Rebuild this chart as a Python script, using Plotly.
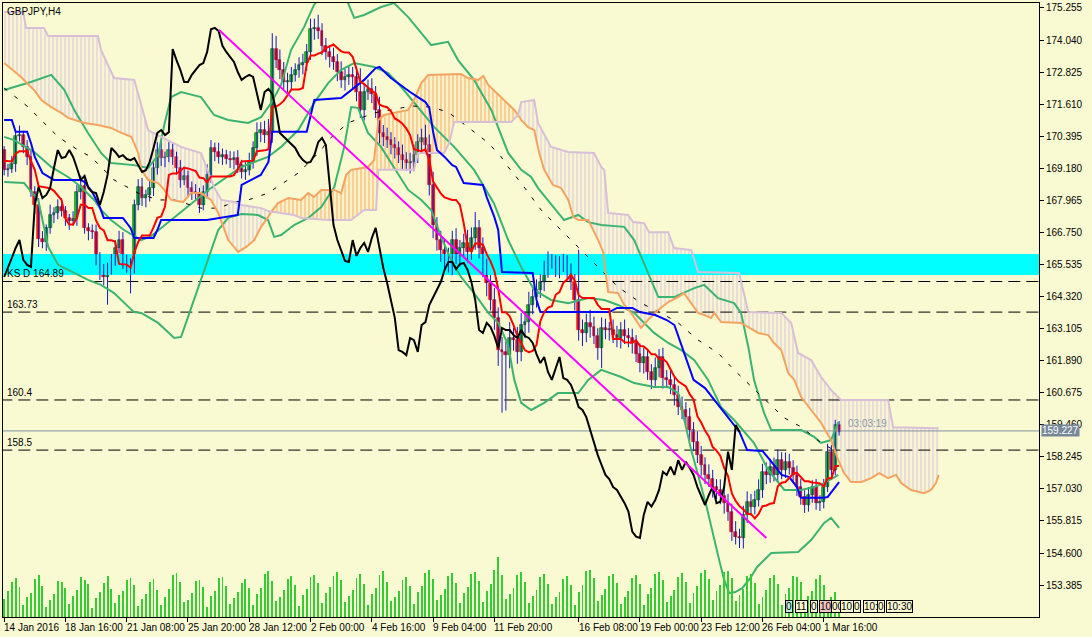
import plotly.graph_objects as go

# GBPJPY H4, bar 0 = 14 Jan 2016 00:00 (prices)
closes = [
    169.11, 169.15, 169.35, 170.40, 170.45, 170.00, 169.60, 168.30, 167.80, 166.50,
    166.40, 166.90, 167.40, 167.50, 167.70, 167.55, 167.30, 167.20, 167.25, 168.30,
    168.50, 166.90, 166.80, 166.75, 165.80, 165.30, 165.06, 165.40, 165.78, 166.16,
    166.46, 165.71, 165.52, 165.44, 167.79, 168.47, 168.05, 168.17, 168.43, 169.19,
    169.87, 169.57, 169.61, 169.87, 169.61, 169.19, 168.74, 168.89, 168.43, 168.28,
    168.24, 167.79, 168.28, 168.93, 169.95, 169.80, 169.61, 169.68, 169.53, 169.49,
    169.57, 169.30, 169.04, 169.11, 169.42, 169.95, 170.52, 170.63, 170.44, 170.55,
    173.70, 173.28, 172.91, 172.45, 172.45, 172.72, 172.91, 173.09, 173.17, 173.59,
    174.45, 174.50, 174.38, 173.82, 173.59, 173.40, 173.21, 172.83, 172.53, 172.64,
    172.72, 172.64, 172.07, 171.39, 172.07, 172.19, 172.00, 171.39, 170.52, 170.37,
    170.25, 170.06, 169.95, 169.68, 169.49, 169.38, 169.42, 169.68, 170.17, 170.33,
    170.06, 168.55, 167.03, 166.46, 166.08, 165.67, 165.63, 166.46, 165.86, 166.16,
    166.35, 166.01, 166.54, 166.92, 166.16, 165.40, 164.83, 164.19, 163.51, 162.29,
    162.22, 162.10, 162.75, 162.67, 162.22, 163.24, 163.35, 164.00, 164.30, 164.57,
    164.87, 165.33, 165.63, 165.63, 165.36, 165.55, 165.59, 165.33, 164.87, 164.19,
    163.05, 162.94, 163.32, 163.16, 162.82, 162.37, 163.13, 163.05, 163.05, 162.86,
    162.75, 163.05, 162.82, 162.75, 162.56, 162.14, 161.80, 162.03, 161.46, 161.16,
    161.61, 162.03, 161.23, 161.16, 160.97, 160.59, 160.13, 160.02, 159.75, 159.26,
    158.81, 158.31, 157.93, 157.56, 157.40, 157.10, 156.99, 156.75, 156.49, 156.17,
    155.41, 155.22, 155.17, 156.04, 156.54, 156.36, 156.61, 156.99, 157.68, 157.56,
    157.87, 157.56, 158.12, 157.75, 158.06, 157.82, 157.56, 157.11, 156.73, 156.42,
    156.80, 157.11, 156.49, 156.54, 157.11, 158.44, 157.75, 159.45, 159.20,
]
first_open = 169.87

upper_wick = [
    0.15, 0.2, 0.3, 0.2, 0.35, 0.15, 0.25, 0.3, 0.2, 0.25,
    0.3, 0.15, 0.4, 0.2, 0.3, 0.35, 0.2, 0.15, 0.3, 0.25,
    0.4, 0.3, 0.2, 0.25, 0.3, 0.2, 0.25, 0.2, 0.15, 0.3,
    0.35, 0.3, 0.2, 0.25, 0.2, 0.3, 0.35, 0.2, 0.3, 0.25,
    0.3, 0.4, 0.2, 0.3, 0.25, 0.2, 0.3, 0.35, 0.2, 0.25,
    0.3, 0.2, 0.25, 0.4, 0.3, 0.2, 0.35, 0.25, 0.2, 0.3,
    0.25, 0.3, 0.2, 0.3, 0.35, 0.25, 0.4, 0.3, 0.35, 0.5,
    0.6, 0.5, 0.4, 0.3, 0.35, 0.3, 0.25, 0.3, 0.35, 0.3,
    0.4, 0.35, 0.5, 0.3, 0.3, 0.25, 0.35, 0.3, 0.4, 0.3,
    0.35, 0.3, 0.4, 0.9, 0.3, 0.35, 0.4, 0.3, 0.5, 0.3,
    0.35, 0.3, 0.3, 0.25, 0.4, 0.3, 0.35, 0.4, 0.3, 0.35,
    0.5, 0.4, 0.5, 0.3, 0.35, 0.4, 0.5, 0.35, 0.45, 0.3,
    0.35, 0.5, 0.4, 0.6, 0.3, 0.4, 0.35, 0.3, 0.45, 0.4,
    0.5, 0.4, 0.6, 0.4, 0.5, 0.45, 0.4, 0.5, 0.3, 0.4,
    0.3, 0.35, 0.4, 0.3, 0.25, 0.3, 0.35, 0.3, 0.25, 0.3,
    1.9, 0.4, 0.35, 0.5, 0.4, 0.3, 0.4, 0.35, 0.3, 0.4,
    0.35, 0.3, 0.4, 0.3, 0.35, 0.3, 0.4, 0.35, 0.3, 0.3,
    0.4, 0.3, 0.35, 0.3, 0.4, 0.3, 0.35, 0.4, 0.3, 0.35,
    0.3, 0.4, 0.35, 0.3, 0.4, 0.35, 0.3, 0.4, 0.3, 0.35,
    0.3, 0.4, 0.3, 0.35, 0.4, 0.3, 0.35, 0.4, 0.3, 0.35,
    0.3, 0.35, 0.4, 0.3, 0.35, 0.3, 0.3, 0.35, 0.3, 0.25,
    0.3, 0.25, 0.3, 0.25, 0.3, 0.3, 0.25, 0.2, 0.15,
]
lower_wick = [
    0.2, 0.25, 0.15, 0.3, 0.2, 0.25, 0.3, 0.2, 0.35, 0.3,
    0.25, 0.35, 0.2, 0.3, 0.25, 0.2, 0.3, 0.35, 0.2, 0.25,
    0.3, 0.2, 0.35, 0.25, 0.3, 0.35, 0.3, 1.05, 0.25, 0.3,
    0.2, 0.35, 0.3, 1.0, 0.25, 0.2, 0.3, 0.35, 0.25, 0.3,
    0.25, 0.3, 0.35, 0.2, 0.3, 0.25, 0.3, 0.2, 0.35, 0.3,
    0.25, 0.3, 0.2, 0.25, 0.3, 0.35, 0.25, 0.3, 0.2, 0.3,
    0.35, 0.3, 0.25, 0.3, 0.2, 0.25, 0.3, 0.35, 0.3, 0.4,
    0.4, 0.3, 0.35, 0.3, 0.4, 0.3, 0.25, 0.3, 0.35, 0.3,
    0.3, 0.4, 0.3, 0.35, 0.3, 0.4, 0.3, 0.35, 0.3, 0.4,
    0.3, 0.45, 0.35, 0.3, 0.4, 0.3, 0.35, 0.3, 0.4, 0.35,
    0.3, 0.35, 0.4, 0.3, 0.35, 0.3, 0.4, 0.35, 0.3, 0.3,
    0.35, 0.4, 0.5, 0.4, 0.45, 0.35, 0.4, 0.5, 0.3, 0.4,
    0.35, 0.4, 0.3, 0.45, 0.4, 0.35, 0.5, 0.4, 0.45, 0.6,
    2.3, 2.1, 0.5, 0.4, 0.45, 0.35, 0.5, 0.4, 0.35, 0.4,
    0.3, 0.35, 0.3, 0.25, 0.3, 0.35, 0.3, 0.35, 0.3, 0.4,
    0.4, 0.5, 0.35, 0.4, 0.3, 0.45, 0.76, 0.35, 0.4, 0.3,
    0.35, 0.4, 0.3, 0.35, 0.4, 0.3, 0.35, 0.4, 0.3, 0.35,
    0.3, 0.35, 0.4, 0.3, 0.35, 0.4, 0.3, 0.35, 0.3, 0.4,
    0.35, 0.3, 0.4, 0.35, 0.3, 0.4, 0.35, 0.3, 0.4, 0.35,
    0.35, 0.3, 0.38, 0.4, 0.3, 0.35, 0.3, 0.25, 0.3, 0.35,
    0.3, 0.25, 0.3, 0.35, 0.3, 0.25, 0.3, 0.35, 0.3, 0.3,
    0.25, 0.3, 0.25, 0.3, 0.25, 0.2, 0.25, 0.2, 0.15,
]

volumes = [
    1800, 2600, 3500, 3900, 3000, 1200, 2000, 2400, 3800, 4200, 3100, 1000,
    1700, 2300, 3600, 3500, 2900, 1300, 2100, 2700, 4000, 3700, 3300, 900,
    1900, 2500, 3400, 4100, 2800, 1400, 2200, 2600, 3700, 3900, 3200, 1100,
    1800, 2300, 3500, 3800, 2700, 1200, 2000, 2800, 4200, 4400, 3500, 1500,
    1700, 2400, 3600, 3700, 3000, 1000, 2100, 2600, 3900, 4000, 3100, 1300,
    1900, 2500, 3400, 3800, 2900, 1200, 2300, 2900, 4300, 4600, 3600, 1600,
    2000, 2700, 3800, 4100, 3200, 1100, 2200, 2800, 4000, 4200, 3400, 1400,
    2400, 3000, 4100, 4500, 3700, 1500, 2100, 2700, 3900, 4300, 3300, 1200,
    2300, 2900, 4200, 4600, 3500, 1600, 2000, 2600, 3700, 4000, 3100, 1300,
    2500, 3100, 4400, 4700, 3800, 1700, 2200, 2800, 4100, 4400, 3400, 1400,
    2400, 3000, 4300, 4500, 3600, 1500, 2600, 3300, 4700, 6000, 4200, 1800,
    2300, 2900, 4200, 4500, 3500, 1400, 2100, 2700, 4000, 4300, 3300, 1300,
    2000, 2500, 3800, 4100, 3200, 1200, 2500, 3200, 4600, 4700, 3900, 1600,
    2200, 2800, 4100, 4300, 3400, 1300, 2000, 2600, 3900, 4200, 3300, 1200,
    2300, 2900, 4300, 4500, 3700, 1500, 2100, 2700, 4000, 4400, 3500, 1400,
    2400, 3100, 4400, 4700, 3800, 1700, 2600, 3200, 4500, 4600, 3900, 1600,
    2200, 2800, 4100, 4300, 3400, 1300, 2000, 2700, 3900, 4200, 3300, 1200,
    2300, 2900, 4100, 4000, 3500, 1400, 2100, 2600, 3800, 4200, 3200, 1300,
    2000, 2500, 1000,
]

# Ichimoku kijun-sen (blue)
kijun_x = [0, 2, 3, 6, 7, 8, 10, 13, 20, 21, 23, 25, 26, 31, 33, 34, 39, 40, 41, 53,
           61, 62, 67, 69, 70, 79, 81, 88, 94, 97, 98, 101, 106, 110, 111, 112, 113, 115,
           117, 118, 120, 125, 126, 128, 129, 130, 138, 139, 140, 158, 160, 164, 166, 170,
           173, 175, 177, 180, 183, 186, 190, 192, 194, 198, 200, 203, 205, 207, 208, 214,
           215, 217, 218]
kijun_y = [171.01, 171.01, 170.56, 170.56, 170.14, 169.61, 169.00, 168.74, 168.74, 168.66,
           168.28, 167.71, 167.30, 167.30, 166.92, 166.54, 166.54, 166.84, 167.22, 167.22,
           167.41, 168.55, 168.93, 169.42, 170.56, 170.56, 171.77, 171.84, 172.53, 172.98,
           173.02, 172.60, 172.07, 171.69, 171.47, 170.56, 169.87, 169.61, 169.30, 169.23,
           168.62, 168.55, 168.09, 167.33, 166.84, 165.25, 165.21, 164.20, 163.73, 163.73,
           163.89, 163.89, 163.73, 163.62, 163.43, 163.24, 162.41, 161.16, 160.85, 160.29,
           159.57, 159.19, 158.50, 158.47, 158.12, 157.56, 157.48, 157.10, 156.69, 156.69,
           156.72, 157.10, 157.29]

# Senkou span A (sandy brown) and B (thistle), shifted 26 bars ahead
span_a_x = [0, 4.4, 7.8, 9.7, 12.3, 14.9, 16.7, 20.9, 24.5, 27.9, 30, 33.2, 35, 35.8, 37.6,
            40.2, 41.8, 43.6, 46.7, 48.8, 51.4, 54, 55.9, 57.2, 58.5, 61.1, 63.2, 65.3, 67.1,
            68.9, 69.7, 71.5, 74.2, 77.5, 79.4, 80.9, 82.8, 86.2, 88, 89.3, 90.6, 95, 96.6,
            97.7, 99.2, 105.5, 107, 108.9, 110.7, 119.3, 121.1, 123.8, 125.1, 126.4, 129.8,
            133.2, 134.2, 135, 136.8, 138.4, 139.7, 141, 143.3, 145.4, 147.3, 148.6, 149.9,
            152.5, 155.1, 156.4, 157.2, 157.7, 160.3, 161.9, 163.7, 165.5, 166.3, 168.1,
            170.8, 173.4, 176, 177.5, 179.4, 181.2, 182.8, 184.6, 185.4, 187.2, 192.4, 194.3,
            196.9, 199.5, 201, 202.9, 204.7, 206.3, 208.1, 210.7, 213.3, 215.9, 217.8, 219.3,
            221.1, 223.8, 226.4, 228.5, 230.8, 232.9, 234.2, 236.8, 240.2, 242, 243.3, 244]
span_a_y = [173.17, 172.64, 172.15, 171.77, 171.50, 171.28, 171.09, 170.90, 170.82, 170.71,
            170.56, 170.37, 169.76, 169.12, 168.74, 168.62, 168.36, 167.98, 167.90, 168.24,
            168.24, 167.98, 167.49, 166.96, 166.46, 166.01, 166.20, 166.46, 166.96, 167.33,
            167.52, 167.86, 168.05, 167.98, 168.24, 168.09, 168.36, 168.36, 168.24, 168.93,
            169.12, 169.23, 169.49, 171.01, 171.20, 171.39, 171.77, 172.41, 172.72, 172.75,
            172.60, 172.53, 172.68, 172.34, 171.88, 171.39, 171.20, 171.01, 170.74, 170.63,
            169.76, 169.12, 168.55, 168.43, 167.98, 167.33, 167.22, 167.22, 166.46, 166.01,
            165.06, 164.49, 164.45, 164.00, 163.70, 163.32, 163.13, 163.43, 163.81, 164.11,
            164.30, 164.45, 164.07, 163.70, 163.62, 163.51, 163.70, 163.35, 163.32, 163.16,
            162.94, 162.86, 162.56, 162.29, 161.42, 161.16, 160.51, 160.02, 159.53, 158.88,
            158.12, 157.63, 157.29, 157.29, 157.44, 157.63, 157.44, 157.56, 157.25, 156.99,
            156.87, 156.99, 157.25, 157.56]
span_b_x = [0, 5, 5.7, 10.4, 11.5, 24.5, 25.3, 28.7, 34, 37.6, 38.4, 46.2, 51.4, 54.8, 56.7,
            60.1, 61.9, 67.1, 69.7, 70.5, 75.7, 77.5, 84.6, 90.6, 94, 97.1, 97.7, 107, 108.1,
            114.9, 116.2, 117.5, 132.4, 134.2, 135, 138.4, 139.4, 142.8, 147.3, 154, 155.9,
            156.7, 157.7, 162.9, 164.2, 167.1, 168.4, 173.4, 174.9, 179.4, 181.2, 191.9, 194.3,
            202.9, 205.5, 207.3, 210.7, 213.3, 215.9, 217.8, 218.5, 230.8, 232.1, 244]
span_b_y = [175.10, 175.10, 174.50, 174.50, 174.19, 174.19, 173.66, 172.60, 172.53, 170.63,
            170.56, 169.99, 169.76, 168.47, 167.98, 167.90, 167.79, 167.67, 167.52, 167.52,
            167.41, 167.30, 167.22, 167.22, 167.60, 167.60, 169.12, 169.12, 169.76, 169.76,
            170.14, 170.93, 170.93, 171.20, 171.69, 171.77, 170.90, 169.99, 169.80, 169.76,
            169.23, 169.12, 167.49, 167.41, 167.14, 167.10, 166.76, 166.76, 166.16, 166.08,
            165.25, 165.21, 163.73, 163.70, 163.32, 162.18, 161.91, 161.27, 160.78, 160.51,
            160.40, 160.40, 159.37, 159.33]
cloud_cross = [69.7, 134.2]

# Bollinger bands (medium sea green)
bb_up_x = [0, 7, 12.3, 15.7, 18.3, 21.9, 25.3, 27.9, 33.9, 37.6, 40.2, 41.8, 43.6, 46.2, 51.4,
           54.8, 58.5, 63.7, 67.1, 69.7, 72.3, 74.9, 78.3, 80.9, 84.1, 87.2, 89.8, 91.4, 94,
           98.4, 101.8, 105.5, 111.5, 115.9, 118.5, 122.7, 127.2, 131.6, 135, 137.6, 139.4,
           142, 144.6, 146.2, 149.9, 152.5, 155.9, 161.9, 164.5, 167.1, 168.9, 170.8, 174.9,
           180.2, 182.8, 186.4, 190.6, 192.4, 194.3, 195.8, 198.4, 200.3, 208.1, 211.5, 213.3,
           215.9, 217.8]
bb_up_y = [172.15, 172.45, 172.72, 172.15, 171.39, 170.52, 169.76, 169.38, 169.30, 169.19,
           169.68, 170.82, 171.88, 172.07, 171.88, 171.20, 171.01, 170.90, 171.12, 171.65,
           172.34, 173.66, 174.53, 175.37, 176.01, 175.86, 175.44, 174.88, 174.99, 175.29,
           175.44, 174.91, 173.85, 173.97, 173.28, 172.53, 171.39, 169.76, 169.12, 168.85,
           168.43, 167.98, 167.49, 167.22, 167.41, 167.14, 167.03, 166.96, 166.46, 165.59,
           164.95, 164.30, 164.30, 164.64, 164.76, 164.26, 164.07, 163.70, 162.41, 161.16,
           159.91, 159.26, 159.26, 159.00, 158.77, 158.88, 159.56]
bb_mid_x = [0, 2.6, 7.8, 12.3, 16.7, 20.1, 23.5, 25.3, 27.9, 31.3, 35.8, 38.4, 41, 46.2,
            53.3, 61.9, 68.9, 72.3, 76.8, 80.9, 84.6, 88, 91.4, 96.6, 100.3, 103.7, 108.1,
            112.3, 117.5, 122.7, 127.9, 131.6, 135, 138.4, 142.8, 147.3, 152.5, 156.7, 160.3,
            164.5, 169.7, 173.4, 176.8, 180.2, 183.8, 187.2, 190.6, 195.8, 199.5, 203.7, 208.1,
            211.5, 214.1, 217.8]
bb_mid_y = [170.37, 170.25, 169.80, 169.23, 168.85, 168.47, 167.98, 167.60, 167.22, 166.84,
            166.46, 166.61, 166.92, 167.52, 168.36, 169.23, 169.61, 169.99, 170.63, 171.65,
            172.41, 172.91, 173.17, 173.02, 172.79, 172.26, 171.50, 170.74, 169.99, 169.12,
            167.85, 166.46, 165.44, 164.57, 164.19, 164.07, 164.26, 164.19, 164.00, 163.70,
            162.94, 162.56, 162.29, 161.91, 161.16, 160.13, 159.64, 158.77, 157.75, 156.99,
            156.99, 157.10, 157.25, 157.56]
bb_low_x = [0, 5.2, 8.9, 11.5, 14.1, 16.7, 21.9, 25.3, 28.7, 33.9, 35.8, 40.2, 44.4, 46.2,
            49.6, 53.3, 55.9, 58.5, 61.9, 66.3, 68.9, 70.5, 72.3, 75.7, 79.4, 82.8, 86.2, 88.8,
            90.6, 92.4, 95, 98.4, 101.8, 105.5, 108.9, 111.5, 114.1, 116.7, 119.3, 122.7,
            126.4, 129, 131.6, 133.2, 135, 137.6, 141, 144.6, 149.9, 152.5, 155.9, 161.1,
            164.5, 169.7, 173.4, 176, 179.4, 183.3, 186.7, 188, 189.3, 190.9, 192.7, 194.8,
            196.6, 200.3, 207.3, 210.7, 214.1, 215.9, 218]
bb_low_y = [168.66, 168.62, 167.98, 166.20, 165.52, 165.33, 164.95, 164.76, 164.45, 163.73,
            163.70, 163.32, 162.75, 162.79, 164.19, 165.71, 166.84, 167.30, 167.45, 167.41,
            167.22, 166.58, 166.65, 167.03, 167.30, 167.71, 168.47, 169.99, 171.50, 171.47,
            170.52, 169.99, 169.23, 168.36, 167.98, 167.60, 166.58, 165.70, 165.06, 164.45,
            163.70, 163.32, 162.48, 161.16, 160.29, 160.02, 160.29, 160.66, 160.66, 161.16,
            161.54, 161.27, 161.04, 160.89, 160.89, 160.66, 158.50, 156.42, 154.33, 153.58,
            153.08, 153.12, 153.27, 153.65, 154.07, 154.60, 154.64, 155.09, 155.74, 155.93,
            155.55]

# slow moving average (thin dashed black)
ma_x = [0, 6.3, 10.4, 14.1, 19.3, 22.7, 28.7, 35, 40.2, 44.4, 51.4, 55.9, 60.1, 63.7, 68.9,
        73.1, 76.8, 82.8, 84.6, 89.8, 96.6, 101, 106.3, 111.5, 115.9, 121.1, 126.4, 129.8,
        131.6, 135, 140.2, 145.4, 150.7, 155.1, 160.3, 166.3, 171.5, 176, 181.2, 186.4,
        190.6, 195.2, 199.5, 203.7, 208.1, 213.3, 216.7]
ma_y = [172.22, 171.50, 170.90, 170.37, 169.87, 169.61, 168.74, 168.24, 167.98, 167.98,
        167.67, 167.67, 167.90, 167.98, 168.24, 168.66, 169.00, 169.87, 170.25, 170.90,
        171.28, 171.39, 171.54, 171.50, 171.31, 170.74, 170.14, 169.61, 169.23, 168.62,
        167.60, 166.84, 166.08, 165.44, 164.68, 164.07, 163.70, 163.32, 162.67, 162.18,
        161.54, 160.89, 160.29, 159.72, 159.38, 158.77, 158.50]

trend_x = [56.1, 199.0]
trend_y = [174.42, 155.17]

levels = [164.89, 163.73, 160.4, 158.5]
level_labels = ["KS D 164.89", "163.73", "160.4", "158.5"]
zone_low, zone_high = 165.14, 165.93
bid = 159.227

tick_idx = [0, 16, 32, 48, 64, 80, 96, 112, 128, 150, 166, 182, 198, 214]
tick_text = ["14 Jan 2016", "18 Jan 16:00", "21 Jan 08:00", "25 Jan 20:00", "28 Jan 12:00",
             "2 Feb 00:00", "4 Feb 16:00", "9 Feb 04:00", "11 Feb 20:00", "16 Feb 08:00",
             "19 Feb 00:00", "23 Feb 12:00", "26 Feb 04:00", "1 Mar 16:00"]
price_ticks = [175.255, 174.040, 172.825, 171.610, 170.395, 169.180, 167.965, 166.750,
               165.535, 164.320, 163.105, 161.890, 160.675, 159.460, 158.245, 157.030,
               155.815, 154.600, 153.385]

news_x = [204, 206.5, 210.4, 212.8, 215.9, 218.3, 221.7, 224.3, 227.9, 230.3]
news_text = ["0", "11", "0", "10", "00", "10", "0", "10:", "0", "10:30"]
news_bg = ["#bfeee8", "#fafad2", "#fafad2", "#f4c4c4", "#fafad2", "#fafad2", "#fafad2",
           "#fafad2", "#fafad2", "#fafad2"]

BG = "#fafad2"
FONT = "Liberation Sans"
X_RANGE = [-0.3, 270.2]
Y_RANGE = [152.175, 175.444]

n = len(closes)
opens = [first_open] + closes[:-1]
highs = [max(o, c) + w for o, c, w in zip(opens, closes, upper_wick)]
lows = [min(o, c) - w for o, c, w in zip(opens, closes, lower_wick)]

tenkan = []
for k in range(n):
    lo = max(0, k - 8)
    tenkan.append((max(highs[lo:k + 1]) + min(lows[lo:k + 1])) / 2)

fig = go.Figure()


def part(xs, ys, k0, k1):
    px, py = [], []
    for x, y in zip(xs, ys):
        if k0 <= x <= k1:
            px.append(x)
            py.append(y)
    return px, py


# cloud hatching
bounds = [0] + cloud_cross + [244]
for i in range(len(bounds) - 1):
    k0, k1 = bounds[i], bounds[i + 1]
    ax, ay = part(span_a_x, span_a_y, k0, k1)
    bx, by = part(span_b_x, span_b_y, k0, k1)
    a_top = (i == 1)
    low = (bx, by) if a_top else (ax, ay)
    top = (ax, ay) if a_top else (bx, by)
    col = "#f4a460" if a_top else "#d8bfd8"
    fig.add_trace(go.Scatter(x=low[0], y=low[1], mode="lines", line=dict(width=0),
                             hoverinfo="skip"))
    fig.add_trace(go.Scatter(x=top[0], y=top[1], mode="lines", line=dict(width=0),
                             fill="tonexty", fillcolor=col,
                             fillpattern=dict(shape="|", size=4, solidity=0.6,
                                              fgcolor=col, bgcolor="rgba(0,0,0,0)"),
                             hoverinfo="skip"))

# support/resistance zone
fig.add_trace(go.Scatter(x=[-1, 280, 280, -1, -1],
                         y=[zone_low, zone_low, zone_high, zone_high, zone_low],
                         mode="lines", line=dict(width=0), fill="toself",
                         fillcolor="#00ffff", hoverinfo="skip"))

# volumes
fig.add_trace(go.Bar(x=list(range(n)), y=volumes, yaxis="y2", width=0.24,
                     marker=dict(color="#32cd32", line=dict(width=0)), hoverinfo="skip"))

for lv in levels:
    fig.add_trace(go.Scatter(x=[-1, 280], y=[lv, lv], mode="lines",
                             line=dict(color="black", width=1, dash="12px,6px"),
                             hoverinfo="skip"))
fig.add_trace(go.Scatter(x=[-1, 280], y=[bid, bid], mode="lines",
                         line=dict(color="#8090a0", width=1), hoverinfo="skip"))

# candles
wx, wy = [], []
for k in range(n):
    wx += [k, k, None]
    wy += [lows[k], highs[k], None]
fig.add_trace(go.Scatter(x=wx, y=wy, mode="lines", line=dict(color="#1515c8", width=1),
                         hoverinfo="skip"))
body_base = [min(o, c) for o, c in zip(opens, closes)]
body_h = [max(abs(c - o), 0.03) for o, c in zip(opens, closes)]
up = [c >= o for o, c in zip(opens, closes)]
fig.add_trace(go.Bar(x=list(range(n)), y=body_h, base=body_base, width=0.75,
                     marker=dict(color=["#00e000" if u else "#ff1010" for u in up],
                                 line=dict(color=["#103010" if u else "#d00000" for u in up],
                                           width=0.6)),
                     hoverinfo="skip"))

# indicators
green = "#3cb371"
for xs, ys in [(bb_up_x, bb_up_y), (bb_mid_x, bb_mid_y), (bb_low_x, bb_low_y)]:
    fig.add_trace(go.Scatter(x=xs, y=ys, mode="lines", line=dict(color=green, width=2),
                             hoverinfo="skip"))
fig.add_trace(go.Scatter(x=ma_x, y=ma_y, mode="lines",
                         line=dict(color="black", width=1, dash="4px,9px"), hoverinfo="skip"))
fig.add_trace(go.Scatter(x=span_a_x, y=span_a_y, mode="lines",
                         line=dict(color="#f4a460", width=2), hoverinfo="skip"))
fig.add_trace(go.Scatter(x=span_b_x, y=span_b_y, mode="lines",
                         line=dict(color="#d8bfd8", width=2), hoverinfo="skip"))
fig.add_trace(go.Scatter(x=kijun_x, y=kijun_y, mode="lines",
                         line=dict(color="#0000ff", width=2), hoverinfo="skip"))
fig.add_trace(go.Scatter(x=list(range(n)), y=tenkan, mode="lines",
                         line=dict(color="#ff0000", width=2), hoverinfo="skip"))
fig.add_trace(go.Scatter(x=list(range(n - 26)), y=closes[26:], mode="lines",
                         line=dict(color="black", width=2), hoverinfo="skip"))
fig.add_trace(go.Scatter(x=trend_x, y=trend_y, mode="lines",
                         line=dict(color="#ff00ff", width=2), hoverinfo="skip"))

ann = []
ann.append(dict(x=0, y=1, xref="paper", yref="paper", xanchor="left", yanchor="top",
                xshift=2, yshift=-1, text="GBPJPY,H4", showarrow=False,
                font=dict(size=10, color="black", family=FONT)))
for lv, lab in zip(levels, level_labels):
    ann.append(dict(x=0, y=lv, xref="paper", yref="y", xanchor="left", yanchor="bottom",
                    xshift=2, yshift=0, text=lab, showarrow=False,
                    font=dict(size=10, color="black", family=FONT)))
for tk, tt in zip(tick_idx, tick_text):
    ann.append(dict(x=tk, y=0, xref="x", yref="paper", xanchor="left", yanchor="middle",
                    xshift=-2, yshift=-10, text=tt, showarrow=False,
                    font=dict(size=10, color="black", family=FONT)))
ann.append(dict(x=1, y=bid, xref="paper", yref="y", xanchor="left", yanchor="middle",
                xshift=2, text="159.227", showarrow=False, bgcolor="#778899", borderpad=0,
                font=dict(size=10, color="white", family=FONT)))
ann.append(dict(x=219.8, y=159.50, xref="x", yref="y", xanchor="left", yanchor="middle",
                text="03:03:19", showarrow=False,
                font=dict(size=10, color="#8c9aa8", family=FONT)))
for nx, nt, nb in zip(news_x, news_text, news_bg):
    ann.append(dict(x=nx, y=152.59, xref="x", yref="y", xanchor="left", yanchor="middle",
                    text=nt, showarrow=False, bgcolor=nb, bordercolor="black",
                    borderwidth=1, borderpad=0,
                    font=dict(size=10, color="black", family=FONT)))

fig.update_layout(
    width=1092, height=637,
    margin=dict(l=3, r=53, t=3, b=20),
    paper_bgcolor=BG, plot_bgcolor=BG,
    showlegend=False, barmode="overlay", bargap=0,
    font=dict(family=FONT, size=10, color="black"),
    xaxis=dict(range=X_RANGE, showgrid=False, zeroline=False, showline=True, mirror=True,
               linecolor="black", linewidth=1, tickvals=tick_idx, ticks="outside",
               ticklen=4, tickcolor="black", showticklabels=False, fixedrange=True,
               automargin=False),
    yaxis=dict(range=Y_RANGE, side="right", showgrid=False, zeroline=False, showline=True,
               mirror=True, linecolor="black", linewidth=1, tickvals=price_ticks,
               ticktext=["%.3f" % v for v in price_ticks], ticks="outside", ticklen=4,
               tickcolor="black", tickfont=dict(size=10, family=FONT), fixedrange=True,
               automargin=False),
    yaxis2=dict(range=[0, 61400], overlaying="y", visible=False, fixedrange=True),
    annotations=ann,
)

# the page body has a default 8px margin; drop it so the chart fills the window
fig.write_html("out.html", config={"displayModeBar": False},
               post_script="document.body.style.margin='0px';"
                           "document.body.style.overflow='hidden';")
